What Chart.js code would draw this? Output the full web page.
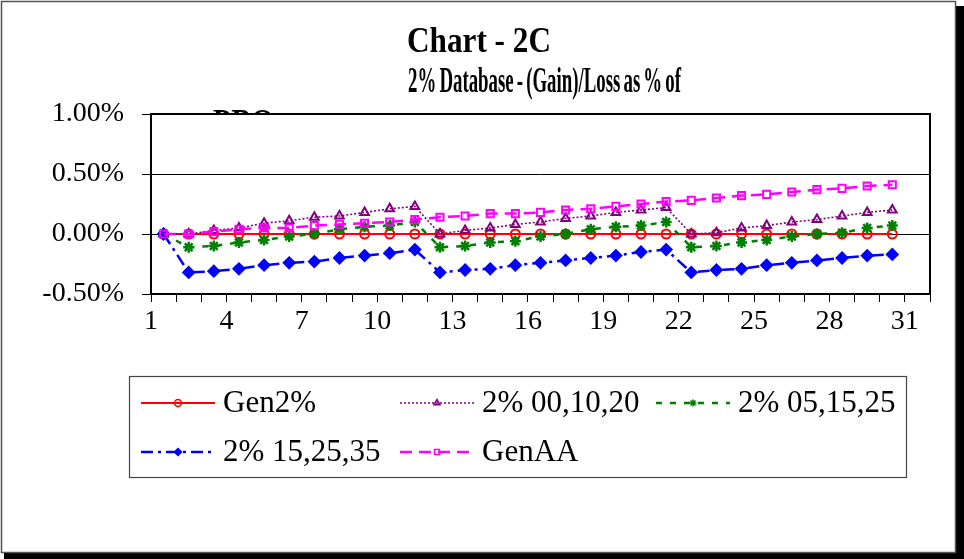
<!DOCTYPE html>
<html>
<head>
<meta charset="utf-8">
<script src="https://cdn.jsdelivr.net/npm/chart.js"></script>
<style>
  body { margin: 0; background: #fff; }
  canvas { display: block; }
</style>
</head>
<body>
<canvas id="chartId" width="964" height="559"></canvas>
<script>
// periods on the x axis (31 slots, label sits on the left tick of each slot)
const periods = ['1', '2', '3', '4', '5', '6', '7', '8', '9', '10', '11', '12', '13', '14', '15', '16',
  '17', '18', '19', '20', '21', '22', '23', '24', '25', '26', '27', '28', '29', '30', '31'];

// (Gain)/Loss as % of PBO
const gen2 = [0, 0, 0, 0, 0, 0, 0, 0, 0, 0, 0, 0, 0, 0, 0, 0, 0, 0, 0, 0, 0, 0, 0, 0, 0, 0, 0, 0, 0, 0];
const s001020 = [0, 0, 0.03, 0.05, 0.09, 0.11, 0.14, 0.15, 0.18, 0.21, 0.23, 0, 0.03, 0.05, 0.08,
  0.10, 0.13, 0.15, 0.18, 0.20, 0.22, 0, 0.01, 0.05, 0.07, 0.10, 0.12, 0.15, 0.18, 0.20];
const s051525 = [0, -0.11, -0.10, -0.07, -0.05, -0.02, 0, 0.04, 0.06, 0.07, 0.10, -0.11, -0.10, -0.07, -0.06,
  -0.02, 0, 0.04, 0.06, 0.07, 0.10, -0.11, -0.10, -0.07, -0.05, -0.02, 0, 0.01, 0.05, 0.07];
const s152535 = [0, -0.32, -0.31, -0.29, -0.26, -0.24, -0.23, -0.20, -0.18, -0.16, -0.13, -0.32, -0.30, -0.29, -0.26,
  -0.24, -0.22, -0.20, -0.18, -0.15, -0.13, -0.32, -0.30, -0.29, -0.26, -0.24, -0.22, -0.20, -0.18, -0.17];
const genAA = [0, 0, 0.02, 0.04, 0.05, 0.05, 0.07, 0.08, 0.09, 0.10, 0.12, 0.14, 0.15, 0.17, 0.17,
  0.18, 0.20, 0.21, 0.23, 0.25, 0.27, 0.28, 0.30, 0.32, 0.33, 0.35, 0.37, 0.38, 0.40, 0.41];

const seriesNames = ['Gen2%', '2% 00,10,20', '2% 05,15,25', '2% 15,25,35', 'GenAA'];
const yTicks = [-0.5, 0, 0.5, 1.0];

const serif = '"Liberation Serif", "Times New Roman", serif';

// title lines: text, left x, baseline y, target width, font size, word spacing
// (the excel title is squeezed sideways and its 3rd line hides under the plot)
const titleLines = [
  ['Chart - 2C', 407, 52, 144, 36, 0],
  ['2% Database - (Gain)/Loss as % of', 408, 92, 273, 36, -3],
  ['PBO', 213, 134, 61, 36, 0]
];

const decor = {
  id: 'decor',
  beforeDraw(chart) {
    const ctx = chart.ctx, a = chart.chartArea;
    ctx.save();
    ctx.fillStyle = '#fff';
    ctx.fillRect(0, 0, chart.width, chart.height);
    // drop shadow + outer frame
    ctx.fillStyle = '#000';
    ctx.fillRect(956, 6, 8, 553);
    ctx.fillRect(4, 553, 960, 6);
    ctx.strokeStyle = '#555';
    ctx.lineWidth = 1.5;
    ctx.strokeRect(1.5, 1.5, 954, 551);
    // title
    ctx.fillStyle = '#000';
    ctx.textBaseline = 'alphabetic';
    titleLines.forEach(([t, x, y, w, size, ws]) => {
      ctx.save();
      ctx.font = 'bold ' + size + 'px ' + serif;
      if ('wordSpacing' in ctx) ctx.wordSpacing = ws + 'px';
      const sx = w / ctx.measureText(t).width;
      ctx.translate(x, y);
      ctx.scale(sx, 1);
      ctx.fillText(t, 0, 0);
      ctx.restore();
    });
    // plot area sits on top of the title overflow
    ctx.fillStyle = '#fff';
    ctx.fillRect(a.left, a.top, a.right - a.left, a.bottom - a.top);
    ctx.restore();
  },
  afterDraw(chart) {
    const ctx = chart.ctx, a = chart.chartArea;
    ctx.save();
    ctx.strokeStyle = '#000';
    ctx.lineWidth = 2;
    ctx.strokeRect(a.left, a.top, a.right - a.left, a.bottom - a.top);

    // legend box
    ctx.strokeStyle = '#444';
    ctx.lineWidth = 1.2;
    ctx.strokeRect(129.5, 376.5, 777, 101);
    const slots = [[141, 403], [400, 403], [656, 403], [141, 452], [400, 452]];
    ctx.font = '31px ' + serif;
    ctx.textBaseline = 'middle';
    chart.data.datasets.forEach((ds, i) => {
      const [x, y] = slots[i];
      ctx.strokeStyle = ds.borderColor;
      ctx.lineWidth = ds.borderWidth;
      ctx.setLineDash(ds.borderDash || []);
      ctx.beginPath();
      ctx.moveTo(x, y);
      ctx.lineTo(x + 74, y);
      ctx.stroke();
      ctx.setLineDash([]);
      ctx.fillStyle = ds.pointBackgroundColor;
      ctx.strokeStyle = ds.pointBorderColor;
      ctx.lineWidth = 1.5;
      Chart.helpers.drawPoint(ctx, {
        pointStyle: ds.pointStyle, radius: 3.5, rotation: 0, borderWidth: 1.5
      }, x + 37, y);
      ctx.fillStyle = '#000';
      ctx.fillText(ds.label, x + 82, y + 1);
    });
    ctx.restore();
  }
};

function series(i, data, color, extra) {
  return Object.assign({
    label: seriesNames[i],
    data: data,
    borderColor: color,
    pointBorderColor: color,
    pointBackgroundColor: 'rgba(0,0,0,0)',
    borderWidth: 2,
    pointRadius: 4.5,
    pointBorderWidth: 2,
    tension: 0,
    order: 5 - i
  }, extra);
}

new Chart(document.getElementById('chartId'), {
  type: 'line',
  data: {
    labels: periods,
    datasets: [
      series(0, gen2, '#FF0000', { pointStyle: 'circle' }),
      series(1, s001020, '#800080', { pointStyle: 'triangle', borderWidth: 1.6, borderDash: [2, 2], pointRadius: 5 }),
      series(2, s051525, '#008000', { pointStyle: 'star', borderWidth: 2.5, borderDash: [6, 8], pointRadius: 5.5, pointBorderWidth: 2.5 }),
      series(3, s152535, '#0000FF', { pointStyle: 'rectRot', borderWidth: 2.5, borderDash: [12, 5, 3, 5], pointRadius: 5.5, pointBackgroundColor: '#0000FF' }),
      series(4, genAA, '#FF00FF', { pointStyle: 'rect', borderWidth: 2.5, borderDash: [12, 7], pointRadius: 5 })
    ]
  },
  options: {
    responsive: false,
    animation: false,
    events: [],
    layout: { padding: { left: 0, top: 114, right: 34, bottom: 225 } },
    plugins: {
      legend: { display: false },
      title: { display: false },
      tooltip: { enabled: false }
    },
    scales: {
      x: {
        type: 'category',
        offset: true,
        grid: { offset: true, drawOnChartArea: false, drawTicks: true, tickLength: 8, color: '#000', lineWidth: 1 },
        border: { display: false },
        ticks: {
          autoSkip: false,
          maxRotation: 0,
          padding: 3,
          labelOffset: -12.57,
          color: '#000',
          font: { family: serif, size: 28 },
          callback: (v, i) => (i % 3 === 0 ? periods[i] : '')
        },
        afterFit(s) { s.height = 40; }
      },
      y: {
        min: -0.5,
        max: 1.0,
        afterBuildTicks(s) { s.ticks = yTicks.map(v => ({ value: v })); },
        grid: { color: '#000', lineWidth: 1, drawTicks: true, tickLength: 9 },
        border: { display: false },
        ticks: {
          padding: 18,
          color: '#000',
          font: { family: serif, size: 28 },
          callback: v => v.toFixed(2) + '%'
        },
        afterFit(s) { s.width = 151; }
      }
    }
  },
  plugins: [decor]
});
</script>
</body>
</html>
